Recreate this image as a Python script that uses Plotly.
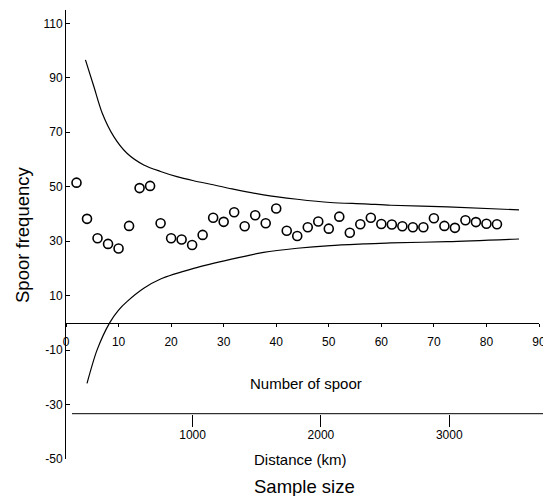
import plotly.graph_objects as go

# Observed data
spoor_n = [2, 4, 6, 8, 10, 12, 14, 16, 18, 20, 22, 24, 26, 28, 30, 32, 34, 36, 38, 40,
           42, 44, 46, 48, 50, 52, 54, 56, 58, 60, 62, 64, 66, 68, 70, 72, 74, 76, 78, 80, 82]
spoor_freq = [51.5, 38.2, 31.1, 29.0, 27.3, 35.6, 49.5, 50.3, 36.6, 31.1, 30.6, 28.6, 32.3,
              38.6, 37.1, 40.6, 35.5, 39.5, 36.6, 42.0, 33.8, 31.9, 35.1, 37.2, 34.6, 39.0,
              33.1, 36.2, 38.6, 36.3, 36.1, 35.5, 35.1, 35.1, 38.4, 35.6, 34.9, 37.7, 37.0,
              36.4, 36.2]

# Upper and lower confidence envelope
upper_x = [3.7, 5.3, 6.9, 9.1, 11.6, 14.8, 18.0, 21.1, 24.3, 27.5, 31.6, 37.6, 44.0, 50.3,
           56.7, 61.8, 72.6, 86.2]
upper_y = [96.6, 86.8, 77.0, 68.4, 62.3, 58.0, 55.6, 53.7, 52.2, 50.9, 49.2, 47.0, 45.4, 44.2,
           43.7, 43.2, 42.6, 41.5]
lower_x = [4.0, 5.9, 8.3, 10.0, 11.6, 14.8, 18.0, 24.3, 31.3, 37.6, 44.0, 50.3, 56.7, 61.8,
           72.6, 86.2]
lower_y = [-22.2, -10.0, 0.0, 4.7, 7.8, 12.7, 16.1, 20.0, 23.3, 25.9, 27.4, 28.4, 29.0, 29.4,
           29.8, 30.8]

y_ticks = [-50, -30, -10, 10, 30, 50, 70, 90, 110]
y_tick_labels = ["-50", "-30", "-10", "10", "30", "50", "70", "90", "110"]
x_ticks = [0, 10, 20, 30, 40, 50, 60, 70, 80, 90]
km_ticks = [1000, 2000, 3000]

FONT = "Liberation Sans, Arial, sans-serif"
W, H = 543, 496
L, R, T, B = 66, 4, 10, 37
PW, PH = W - L - R, H - T - B


def px_x(px):
    return (px - L) / PW


def px_y(py):
    return (H - B - py) / PH


fig = go.Figure()
fig.add_trace(go.Scatter(x=upper_x, y=upper_y, mode="lines",
                         line=dict(color="black", width=1.2, shape="spline", smoothing=0.8),
                         hoverinfo="skip", showlegend=False))
fig.add_trace(go.Scatter(x=lower_x, y=lower_y, mode="lines",
                         line=dict(color="black", width=1.2, shape="spline", smoothing=0.8),
                         hoverinfo="skip", showlegend=False))
fig.add_trace(go.Scatter(x=spoor_n, y=spoor_freq, mode="markers",
                         marker=dict(symbol="circle-open", size=9, color="black",
                                     line=dict(width=1.6, color="black")),
                         showlegend=False))
# dummy trace so the distance axis is drawn
fig.add_trace(go.Scatter(x=[None], y=[None], xaxis="x2", yaxis="y", showlegend=False,
                         hoverinfo="skip"))

fig.update_layout(
    template="none",
    width=W, height=H,
    margin=dict(l=L, r=R, t=T, b=B, pad=0, autoexpand=False),
    paper_bgcolor="white", plot_bgcolor="white",
    font=dict(family=FONT, color="black", size=12),
    xaxis=dict(range=[0, 90], tickvals=x_ticks, anchor="free", position=px_y(322.9),
               showline=True, linecolor="black", linewidth=1, ticks="outside", ticklen=3,
               tickcolor="black", showgrid=False, zeroline=False, automargin=False,
               ticklabelstandoff=5, ticklabeloverflow="allow",
               tickfont=dict(size=12, family=FONT)),
    xaxis2=dict(range=[14, 3699], tickvals=km_ticks, overlaying="x", anchor="free",
                position=px_y(413.7), side="bottom", showline=False, ticks="outside",
                ticklen=12, tickcolor="black", showgrid=False, zeroline=False,
                automargin=False, ticklabelstandoff=-2,
                tickfont=dict(size=12, family=FONT)),
    yaxis=dict(range=[-50, 114.9], tickvals=y_ticks, ticktext=y_tick_labels, showline=True,
               linecolor="black", linewidth=1, ticks="inside", ticklen=4, tickcolor="black",
               showgrid=False, zeroline=False, automargin=False,
               tickfont=dict(size=12, family=FONT)),
)

# distance axis line (extends to the page edge)
fig.add_shape(type="line", xref="paper", yref="paper", x0=px_x(72), x1=px_x(543),
              y0=px_y(413.7), y1=px_y(413.7), line=dict(color="black", width=1))

ann = [
    ("Number of spoor", 305.8, 383.3, 15, 0),
    ("Distance (km)", 300.8, 459.3, 15, 0),
    ("Sample size", 304.5, 486.7, 18.5, 0),
    ("Spoor frequency", 22, 235, 18.5, -90),
]
for text, ax, ay, size, ang in ann:
    fig.add_annotation(text=text, xref="paper", yref="paper", x=px_x(ax), y=px_y(ay),
                       xanchor="center", yanchor="middle", showarrow=False, textangle=ang,
                       font=dict(size=size, family=FONT, color="black"))

fig.write_html("out.html", config={"displayModeBar": False},
               post_script="document.body.style.margin='0';document.body.style.padding='0';"
                           "document.body.style.overflow='hidden';")
